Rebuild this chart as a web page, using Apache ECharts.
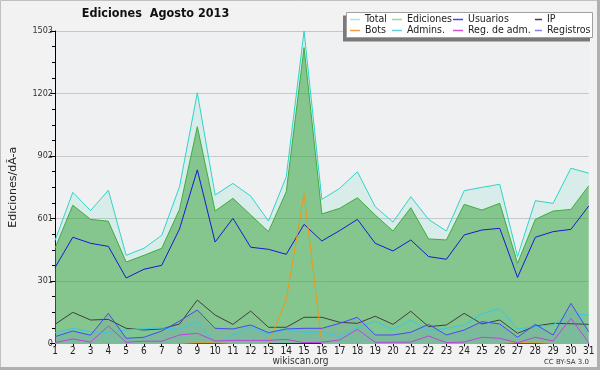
<!DOCTYPE html>
<html><head><meta charset="utf-8">
<script src="https://cdn.jsdelivr.net/npm/echarts@6/dist/echarts.min.js"></script>
<style>html,body{margin:0;padding:0;background:#f2f2f2}#c{width:600px;height:370px}</style>
</head><body><div id="c"></div>
<script>
const days = ['1','2','3','4','5','6','7','8','9','10','11','12','13','14','15','16','17','18','19','20','21','22','23','24','25','26','27','28','29','30','31'];
const yTicks = [0, 301, 601, 902, 1202, 1503];
const total = [495,727,639,737,424,458,520,754,1206,714,770,709,589,802,1503,693,746,826,658,584,706,597,541,735,751,766,418,687,674,843,819];
const ediciones = [458,665,597,588,392,424,458,645,1043,637,698,618,538,730,1423,623,650,701,618,541,653,503,498,669,642,674,386,597,637,645,758];
const usuarios = [365,511,482,467,315,357,376,551,835,488,602,463,453,429,573,493,543,597,482,445,498,418,405,522,546,554,318,511,538,549,661];
const ip = [92,150,113,116,73,65,70,94,209,137,92,156,78,78,126,126,102,97,131,92,155,81,89,145,94,113,49,84,97,95,92];
const bots = [0,0,0,0,0,0,0,0,3,3,0,0,0,210,720,0,0,0,0,0,0,0,0,0,0,0,3,3,0,0,0];
const admins = [52,73,57,54,65,71,75,68,108,4,41,78,44,68,54,57,33,78,108,68,113,62,73,89,142,169,70,81,89,145,136];
const regAdm = [4,22,7,84,6,11,11,41,49,12,15,15,15,20,4,6,17,68,6,6,7,36,4,7,30,25,4,30,12,121,4];
const registros = [33,60,40,145,25,30,60,108,161,73,70,89,52,70,73,73,97,126,41,41,54,92,41,65,105,94,30,92,41,193,57];

const FONT = '"DejaVu Sans Condensed", "DejaVu Sans", sans-serif';
const chart = echarts.init(document.getElementById('c'), null, {renderer:'canvas'});
function line(name, data, color, area) {
  const s = {name, type:'line', data, symbol:'none', smooth:false, animation:false,
    lineStyle:{color, width:1}, itemStyle:{color}};
  if (area) s.areaStyle = area;
  return s;
}
function lg(left, items, w) {
  return {left, top:14, orient:'vertical', itemGap:0, itemWidth:w, itemHeight:1.5, padding:0,
    icon:'rect', selectedMode:false, z:5,
    textStyle:{fontFamily:FONT, fontSize:10.5, lineHeight:10, color:'#222'},
    data: items.map(([n,c]) => ({name:n, itemStyle:{color:c}}))};
}
chart.setOption({
  backgroundColor:'#f2f2f2',
  animation:false,
  textStyle:{fontFamily:FONT},
  grid:{left:46.5, right:11.3, top:31, bottom:26.5, show:true, backgroundColor:'#eff0f2', borderWidth:0},
  legend:[
    lg(350, [['Total','#a8e8e0'],['Bots','#f0a040']], 10),
    lg(392, [['Ediciones','#98d898'],['Admins.','#60d0e0']], 10),
    lg(453, [['Usuarios','#4848e0'],['Reg. de adm.','#d050e0']], 10),
    lg(535, [['IP','#404040'],['Registros','#8080f0']], 7)
  ],
  xAxis:{type:'category', data:days, boundaryGap:false,
    axisLine:{lineStyle:{color:'#000', width:1}},
    axisTick:{show:true, length:3, interval:0, lineStyle:{color:'#000'}},
    axisLabel:{fontFamily:FONT, fontSize:10, color:'#222', margin:3, interval:0},
    splitLine:{show:false}},
  yAxis:{type:'value', min:0, max:yTicks[5], interval:yTicks[5]/5,
    name:'Ediciones/dÃ-a', nameLocation:'middle', nameGap:36, nameRotate:90,
    nameTextStyle:{fontFamily:'"DejaVu Sans", sans-serif', fontSize:11, color:'#222'},
    axisLine:{show:true, lineStyle:{color:'#000', width:1}},
    axisTick:{show:true, length:5, lineStyle:{color:'#000'}},
    minorTick:{show:true, splitNumber:4, length:3, lineStyle:{color:'#000'}},
    axisLabel:{fontFamily:FONT, fontSize:9, color:'#333', margin:2,
      formatter:v => String(yTicks[Math.round(v/(yTicks[5]/5))])},
    splitLine:{show:true, lineStyle:{color:'#c8c8c8', width:1}}},
  series:[
    line('Total', total, '#30d4c8', {color:'#40d0b8', opacity:0.13}),
    line('Ediciones', ediciones, '#40ac40', {color:'#30a030', opacity:0.5}),
    line('Usuarios', usuarios, '#1818d8'),
    line('IP', ip, '#404040'),
    line('Bots', bots, '#f09818'),
    line('Admins.', admins, '#38c8e8', {color:'#40c8e8', opacity:0.08}),
    line('Reg. de adm.', regAdm, '#c040e0'),
    line('Registros', registros, '#4848f8', {color:'#6060f0', opacity:0.1})
  ],
  graphic:[
    {type:'rect', silent:true, z:-10, shape:{x:0.5,y:0.5,width:598,height:368}, style:{fill:'none', stroke:'#c0c0c0', lineWidth:1}},
    {type:'rect', silent:true, z:-10, shape:{x:597,y:0,width:3,height:370}, style:{fill:'#b0b0b0'}},
    {type:'rect', silent:true, z:-10, shape:{x:0,y:367,width:600,height:3}, style:{fill:'#b0b0b0'}},
    {type:'text', x:155.5, y:14, z:10, style:{text:'Ediciones  Agosto 2013', font:'bold 12.5px "DejaVu Sans Condensed", "DejaVu Sans"', fill:'#111', textAlign:'center', textVerticalAlign:'middle'}},
    {type:'rect', z:1, silent:true, shape:{x:343,y:15.5,width:247,height:26}, style:{fill:'#7a7a7a'}},
    {type:'rect', z:2, silent:true, shape:{x:346.5,y:12.5,width:246,height:25}, style:{fill:'#ffffff', stroke:'#a0a0a0', lineWidth:1}},
    {type:'text', x:300.5, y:361, z:10, style:{text:'wikiscan.org', font:'10px "DejaVu Sans Condensed", "DejaVu Sans"', fill:'#333', textAlign:'center', textVerticalAlign:'middle'}},
    {type:'text', x:589, y:362, z:10, style:{text:'CC BY-SA 3.0', font:'7px "DejaVu Sans"', fill:'#333', textAlign:'right', textVerticalAlign:'middle'}}
  ]
});
</script></body></html>
